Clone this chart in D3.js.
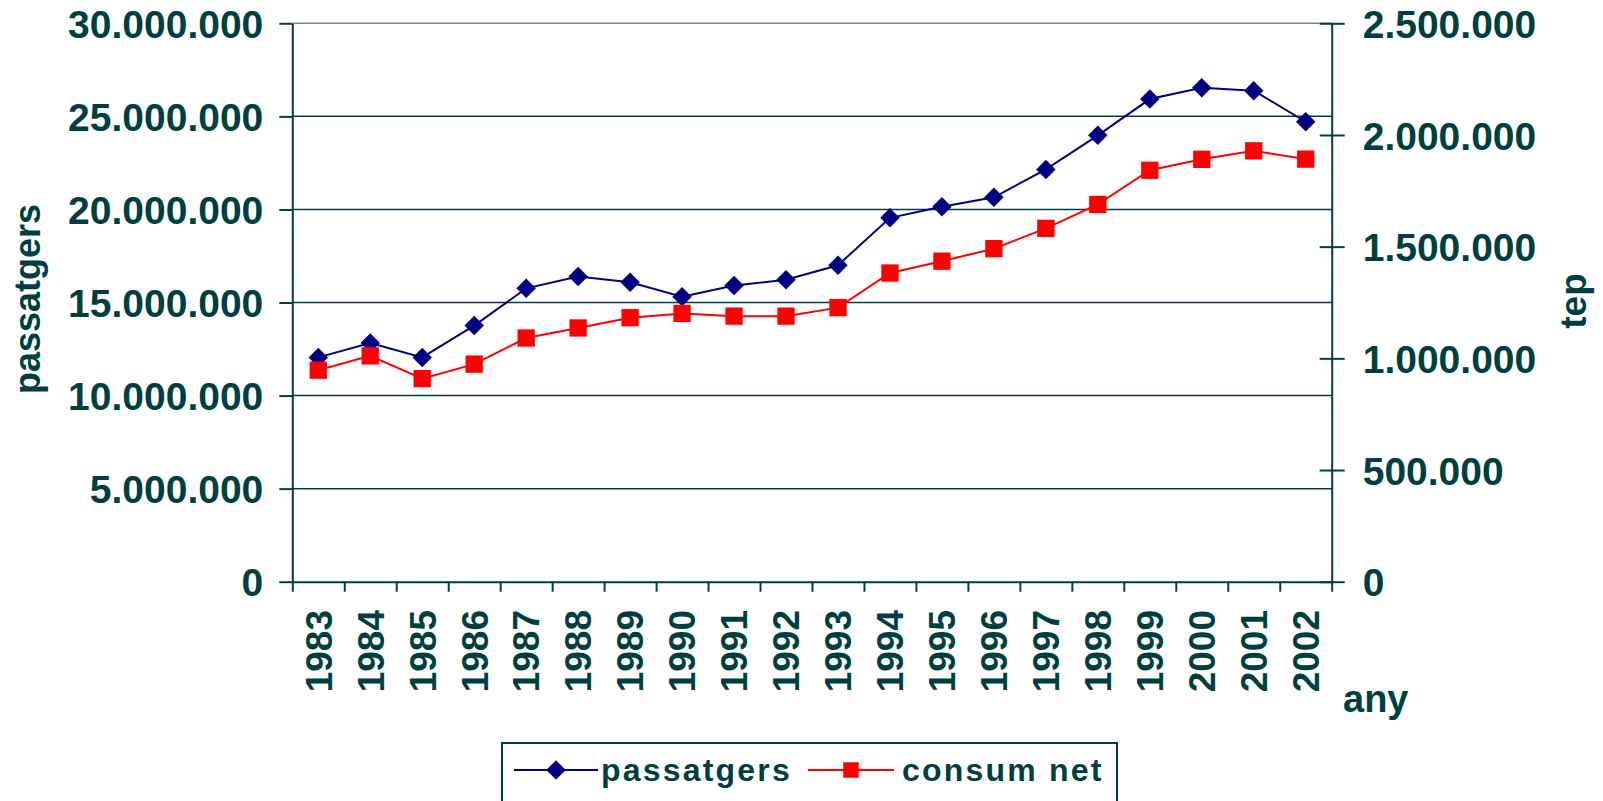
<!DOCTYPE html>
<html>
<head>
<meta charset="utf-8">
<script src="https://cdn.jsdelivr.net/npm/d3@7"></script>
<style>
  body { margin: 0; background: #fff; }
  text { font-family: "Liberation Sans", Arial, sans-serif; font-weight: bold; fill: #003f3f; }
</style>
</head>
<body>
<svg id="chart" width="1603" height="801"></svg>
<script>
const years = ['1983','1984','1985','1986','1987','1988','1989','1990','1991','1992',
               '1993','1994','1995','1996','1997','1998','1999','2000','2001','2002'];
const passatgers = [12050000, 12820000, 12050000, 13760000, 15760000, 16400000, 16090000, 15310000, 15910000, 16220000,
                    17000000, 19550000, 20140000, 20650000, 22150000, 23980000, 25930000, 26540000, 26380000, 24710000];
const consumNet = [947000, 1011000, 909000, 974000, 1091000, 1136000, 1182000, 1201000, 1189000, 1189000,
                   1227000, 1382000, 1435000, 1491000, 1582000, 1689000, 1842000, 1891000, 1929000, 1892000];
const leftTicks = [0, 5000000, 10000000, 15000000, 20000000, 25000000, 30000000];
const rightTicks = [0, 500000, 1000000, 1500000, 2000000, 2500000];

const ink = '#003f3f';
const plotLeft = 292.3, plotRight = 1331.7, plotTop = 23.3, plotBottom = 581.7;

let svg = d3.select('#chart');
let fmt = v => d3.format(',')(v).replace(/,/g, '.');

let x = d3.scaleBand().domain(years).range([plotLeft, plotRight]);
let xEdge = d3.scaleLinear().domain([0, years.length]).range([plotLeft, plotRight]);
let yL = d3.scaleLinear().domain([0, 30000000]).range([plotBottom, plotTop]);
let yR = d3.scaleLinear().domain([0, 2500000]).range([plotBottom, plotTop]);

// gridlines
svg.append('g').selectAll('line').data(leftTicks.slice(1)).enter().append('line')
    .attr('x1', plotLeft).attr('x2', plotRight)
    .attr('y1', d => yL(d)).attr('y2', d => yL(d))
    .attr('stroke', d => d === 30000000 ? '#808080' : ink)
    .attr('stroke-width', 1.5);

// left axis
let gL = svg.append('g').attr('transform', `translate(${plotLeft},0)`)
    .call(d3.axisLeft(yL).tickValues(leftTicks).tickSizeInner(13).tickSizeOuter(0).tickPadding(16).tickFormat(fmt));

// right axis
let gR = svg.append('g').attr('transform', `translate(${plotRight},0)`)
    .call(d3.axisRight(yR).tickValues(rightTicks).tickSizeInner(13).tickSizeOuter(0).tickPadding(18).tickFormat(fmt));
gR.selectAll('.tick line').attr('x1', -12);

// bottom axis (ticks between categories)
let gB = svg.append('g').attr('transform', `translate(0,${plotBottom})`)
    .call(d3.axisBottom(xEdge).tickValues(d3.range(0, years.length + 1)).tickSizeInner(10).tickSizeOuter(0).tickFormat(''));

[gL, gR, gB].forEach(g => {
    g.selectAll('path.domain').attr('stroke', ink).attr('stroke-width', 2);
    g.selectAll('.tick line').attr('stroke', ink).attr('stroke-width', 2);
    g.selectAll('.tick text').style('font-size', '39px').attr('fill', ink)
        .style('font-family', '"Liberation Sans", Arial, sans-serif').style('font-weight', 'bold');
});
gL.selectAll('.tick text').attr('dy', '0.36em');
gR.selectAll('.tick text').attr('dy', '0.36em');

// year labels
svg.append('g').selectAll('text').data(years).enter().append('text')
    .attr('transform', d => `translate(${x(d) + x.bandwidth() / 2},610) rotate(-90)`)
    .attr('text-anchor', 'end')
    .attr('dy', '0.36em')
    .style('font-size', '37px')
    .text(d => d);

// series
let cx = d => x(d) + x.bandwidth() / 2;
let lineL = d3.line().x((d, i) => cx(years[i])).y(d => yL(d));
let lineR = d3.line().x((d, i) => cx(years[i])).y(d => yR(d));

svg.append('path').attr('d', lineL(passatgers)).attr('fill', 'none').attr('stroke', '#000080').attr('stroke-width', 2);
svg.append('path').attr('d', lineR(consumNet)).attr('fill', 'none').attr('stroke', '#ff0000').attr('stroke-width', 2);

let diamond = d3.symbol().type(d3.symbolSquare).size(190);
let square = d3.symbol().type(d3.symbolSquare).size(300);

svg.append('g').selectAll('path').data(passatgers).enter().append('path')
    .attr('d', diamond)
    .attr('transform', (d, i) => `translate(${cx(years[i])},${yL(d)}) rotate(45)`)
    .attr('fill', '#000080');

svg.append('g').selectAll('path').data(consumNet).enter().append('path')
    .attr('d', square)
    .attr('transform', (d, i) => `translate(${cx(years[i])},${yR(d)})`)
    .attr('fill', '#ff0000');

// axis titles
svg.append('text').attr('transform', 'translate(40,299) rotate(-90)')
    .attr('text-anchor', 'middle').style('font-size', '36px').text('passatgers');
svg.append('text').attr('transform', 'translate(1586,301) rotate(-90)')
    .attr('text-anchor', 'middle').style('font-size', '37px').text('tep');
svg.append('text').attr('x', 1343).attr('y', 712).style('font-size', '38px').text('any');

// legend
let lg = svg.append('g');
lg.append('rect').attr('x', 502).attr('y', 743).attr('width', 615).attr('height', 80)
    .attr('fill', '#fff').attr('stroke', ink).attr('stroke-width', 2);
lg.append('line').attr('x1', 514).attr('x2', 598).attr('y1', 770).attr('y2', 770)
    .attr('stroke', '#000080').attr('stroke-width', 2);
lg.append('path').attr('d', diamond).attr('transform', 'translate(556,770) rotate(45)').attr('fill', '#000080');
lg.append('text').attr('x', 601).attr('y', 781).style('font-size', '32px').style('letter-spacing', '2.2px').text('passatgers');
lg.append('line').attr('x1', 808).attr('x2', 894).attr('y1', 770).attr('y2', 770)
    .attr('stroke', '#ff0000').attr('stroke-width', 2);
lg.append('path').attr('d', d3.symbol().type(d3.symbolSquare).size(240)).attr('transform', 'translate(851,770)').attr('fill', '#ff0000');
lg.append('text').attr('x', 902).attr('y', 781).style('font-size', '32px').style('letter-spacing', '2.2px').text('consum net');
</script>
</body>
</html>
